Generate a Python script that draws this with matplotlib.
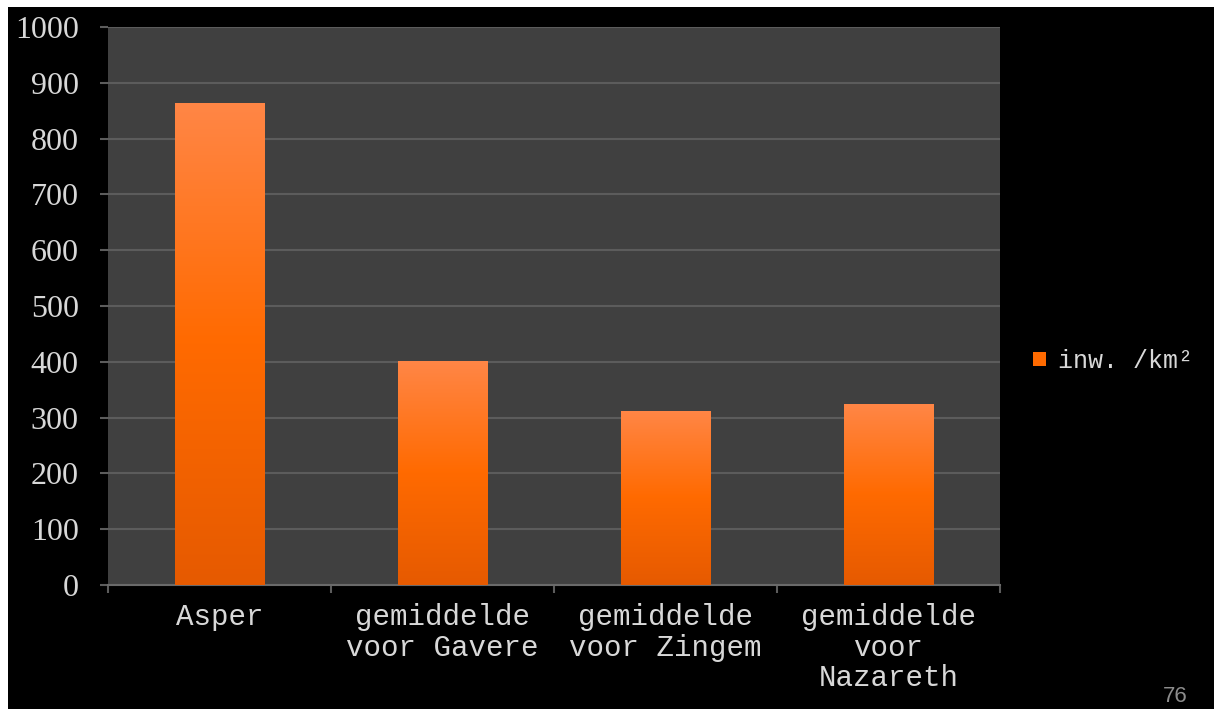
import matplotlib
matplotlib.use("Agg")
import matplotlib.pyplot as plt
from matplotlib.patches import Rectangle
from matplotlib.colors import LinearSegmentedColormap
import numpy as np

categories = ["Asper", "gemiddelde\nvoor Gavere", "gemiddelde\nvoor Zingem", "gemiddelde\nvoor\nNazareth"]
density = [864, 401, 312, 324]
series_name = "inw. /km\u00b2"
y_ticks = [0, 100, 200, 300, 400, 500, 600, 700, 800, 900, 1000]

W, H = 1214, 709
fig = plt.figure(figsize=(W / 100, H / 100), dpi=100)
fig.patch.set_facecolor("white")
# black slide area (white strip on the left and top of the screenshot)
fig.add_artist(Rectangle((8 / W, 0), 1, 1 - 7 / H, transform=fig.transFigure,
                         facecolor="black", edgecolor="none", zorder=0))

ax = fig.add_axes([108 / W, 1 - 585 / H, (1000 - 108) / W, (585 - 27) / H])
ax.set_facecolor("#404040")

txt = "#d8d8d8"
x = np.arange(len(categories))
bars = ax.bar(x, density, width=0.4, color="#ff6a00", edgecolor="none", zorder=2,
              label=series_name)

# vertical gradient inside each bar
grad = LinearSegmentedColormap.from_list("g", ["#e65a00", "#ff6a00", "#ff8646"])
for b in bars:
    x0, y0 = b.get_x(), b.get_y()
    w, h = b.get_width(), b.get_height()
    im = ax.imshow(np.linspace(0, 1, 256).reshape(-1, 1), cmap=grad, origin="lower",
                   extent=[x0, x0 + w, y0, y0 + h], aspect="auto", zorder=3)
    im.set_clip_path(b)

ax.set_xlim(-0.5, len(categories) - 0.5)
ax.set_ylim(0, 1000)
ax.set_yticks(y_ticks)
ax.set_yticklabels([str(v) for v in y_ticks], fontsize=23, color=txt,
                   family="Liberation Serif")
ax.yaxis.grid(True, color="#5c5c5c", linewidth=1.5, zorder=1)
ax.set_axisbelow(True)
ax.tick_params(axis="y", length=6, color="#5c5c5c", width=1.5, pad=15)

ax.set_xticks(x)
ax.set_xticklabels(categories, fontsize=21, color=txt, family="Liberation Mono",
                   linespacing=1.12)
ax.tick_params(axis="x", length=0, pad=13)
ax.set_xticks(np.arange(len(categories) + 1) - 0.5, minor=True)
ax.tick_params(axis="x", which="minor", length=6, color="#5c5c5c", width=1.5)

for s in ["top", "right", "left"]:
    ax.spines[s].set_visible(False)
ax.spines["bottom"].set_color("#6a6a6a")
ax.spines["bottom"].set_linewidth(1.5)

leg = fig.legend(handles=[bars], labels=[series_name], loc="center left",
                 bbox_to_anchor=(1033 / W, 1 - 361 / H), frameon=False,
                 prop={"family": "Liberation Mono", "size": 18},
                 borderpad=0, borderaxespad=0,
                 handlelength=0.52, handleheight=0.52, handletextpad=0.48)
for t in leg.get_texts():
    t.set_color(txt)

fig.text(1175 / W, 1 - 697 / H, "76", color="#8c8c8c", fontsize=16,
         ha="center", va="center", family="Liberation Sans")

fig.savefig("out.png", dpi=100, facecolor=fig.get_facecolor())
